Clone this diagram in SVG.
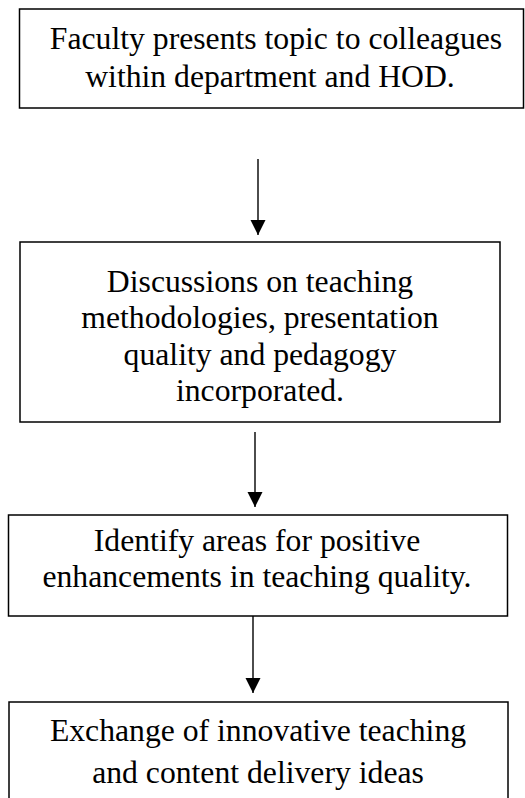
<svg xmlns="http://www.w3.org/2000/svg" width="525" height="798" viewBox="0 0 525 798">
<style>
.box{fill:#fff;stroke:#000;stroke-width:1.5}
.t{font-family:"Liberation Serif","Times New Roman",serif;font-size:31.7px;fill:#000;text-anchor:middle}
.c{stroke:#000;stroke-width:1.4;fill:none}
</style>
<defs>
<marker id="ah" markerUnits="userSpaceOnUse" markerWidth="16" markerHeight="16" refX="15" refY="7.5" orient="auto">
<path d="M0,0 L15,7.5 L0,15 Z" fill="#000"/>
</marker>
</defs>
<rect width="525" height="798" fill="#fff"/>
<g id="node1">
<rect class="box" x="19.5" y="9" width="504" height="99"/>
<text class="t" x="276" y="49">Faculty presents topic to colleagues</text>
<text class="t" x="270" y="87">within department and HOD.</text>
</g>
<g id="node2">
<rect class="box" x="20" y="242" width="480" height="180"/>
<text class="t" x="260" y="292">Discussions on teaching</text>
<text class="t" x="260" y="328">methodologies, presentation</text>
<text class="t" x="260" y="365">quality and pedagogy</text>
<text class="t" x="260" y="401">incorporated.</text>
</g>
<g id="node3">
<rect class="box" x="8.5" y="515" width="499" height="101"/>
<text class="t" x="257" y="551">Identify areas for positive</text>
<text class="t" x="257" y="587">enhancements in teaching quality.</text>
</g>
<g id="node4">
<rect class="box" x="9" y="702" width="499" height="110"/>
<text class="t" x="258" y="741">Exchange of innovative teaching</text>
<text class="t" x="258" y="783">and content delivery ideas</text>
</g>
<g id="connectors">
<line class="c" x1="258" y1="159" x2="258" y2="235" marker-end="url(#ah)"/>
<line class="c" x1="255" y1="432" x2="255" y2="507" marker-end="url(#ah)"/>
<line class="c" x1="253" y1="616" x2="253" y2="693" marker-end="url(#ah)"/>
</g>
</svg>
